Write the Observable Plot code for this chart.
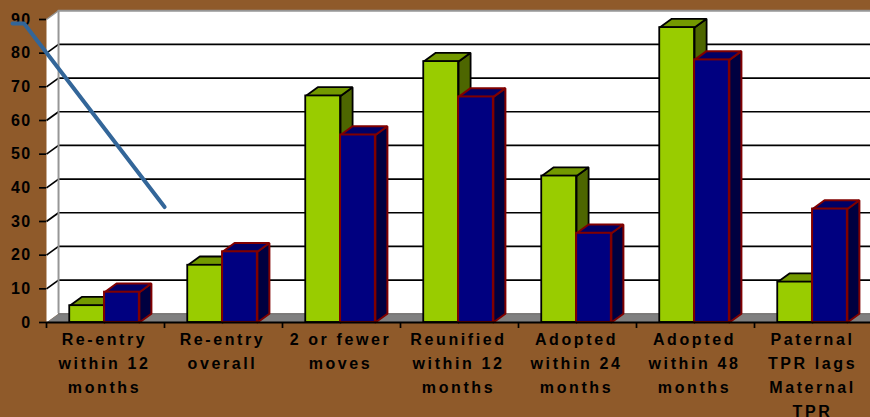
<!DOCTYPE html>
<html>
<head>
<meta charset="utf-8">
<script src="https://cdn.jsdelivr.net/npm/d3@7"></script>
<script src="https://cdn.jsdelivr.net/npm/@observablehq/plot@0.6"></script>
<style>
html,body{margin:0;padding:0;background:#8f5a2a;overflow:hidden}
svg{display:block}
svg .cat text, svg text.cat, .cat{letter-spacing:2.6px}
svg .ytick text, svg text.ytick, .ytick{letter-spacing:1.3px}
</style>
</head>
<body>
<div id="chart"></div>
<script>
const categories = [
  "Re-entry\nwithin 12\nmonths",
  "Re-entry\noverall",
  "2 or fewer\nmoves",
  "Reunified\nwithin 12\nmonths",
  "Adopted\nwithin 24\nmonths",
  "Adopted\nwithin 48\nmonths",
  "Paternal\nTPR lags\nMaternal\nTPR"
];
const greenValues = [5, 17, 67.3, 77.5, 43.5, 87.6, 12];
const blueValues = [9, 21, 55.7, 67, 26.5, 78, 33.7];
const yTicks = [0, 10, 20, 30, 40, 50, 60, 70, 80, 90];
const strayLineX = [-0.288, -0.19, 1.001];
const strayLineY = [88.8, 88.8, 34.3];

const depthX = 0.102, depthY = 2.6;
const yMax = 90, n = categories.length;
const wallRight = 7.1;

function poly(key, pts, fill, stroke) {
  return pts.concat([pts[0]]).map(([x, y]) => ({key, x, y, fill, stroke}));
}
function barFaces(values, start, width, sideFill, topFill, stroke) {
  return values.flatMap((v, i) => {
    const a = i + start, b = a + width;
    return [
      ...poly(`s${start}${i}`, [[b, 0], [b + depthX, depthY], [b + depthX, v + depthY], [b, v]], sideFill, stroke),
      ...poly(`t${start}${i}`, [[a, v], [a + depthX, v + depthY], [b + depthX, v + depthY], [b, v]], topFill, stroke)
    ];
  });
}
function barFront(values, start, width, fill, stroke, sw) {
  return Plot.rectY(values.map((v, i) => ({i, v})), {
    x1: d => d.i + start, x2: d => d.i + start + width, y1: 0, y2: "v",
    fill, stroke, strokeWidth: sw
  });
}
function polyMark(data, strokeWidth) {
  return Plot.line(data, {x: "x", y: "y", z: "key", fill: "fill", stroke: "stroke", strokeWidth, curve: "linear", strokeLinejoin: "miter"});
}

const walls = [
  ...poly("side", [[0, 0], [depthX, depthY], [depthX, yMax + depthY], [0, yMax]], "#ffffff", "none"),
  ...poly("back", [[depthX, depthY], [wallRight, depthY], [wallRight, yMax + depthY], [depthX, yMax + depthY]], "#ffffff", "none"),
  ...poly("floor", [[0, 0], [depthX, depthY], [wallRight, depthY], [wallRight, 0]], "#808080", "none")
];
const gridDiagonals = yTicks.slice(1, -1).map(t => ({t}));

const start1 = 0.197, start2 = 0.492, barW = 0.295;

const chart = Plot.plot({
  width: 870, height: 417,
  marginLeft: 46, marginRight: 0, marginTop: 19, marginBottom: 95,
  style: {background: "#8f5a2a", fontFamily: "'Liberation Sans', Arial, sans-serif", overflow: "hidden"},
  x: {type: "linear", domain: [0, 7], range: [46, 872]},
  y: {type: "linear", domain: [0, yMax], range: [322, 19]},
  color: {type: "identity"},
  marks: [
    polyMark(walls, 0),
    Plot.ruleY(yTicks.slice(1, -1), {y: d => d + depthY, x1: depthX, x2: wallRight, stroke: "#000", strokeWidth: 1.7}),
    Plot.link(gridDiagonals, {x1: 0, y1: "t", x2: depthX, y2: d => d.t + depthY, stroke: "#000", strokeWidth: 1.7}),
    Plot.ruleX([depthX], {y1: depthY, y2: yMax + depthY, stroke: "#969696", strokeWidth: 2}),
    Plot.ruleY([yMax + depthY], {x1: 0.1, x2: wallRight, stroke: "#969696", strokeWidth: 2}),
    Plot.link([0], {x1: 0, y1: yMax, x2: depthX, y2: yMax + depthY, stroke: "#969696", strokeWidth: 1.5}),
    Plot.ruleY([depthY], {x1: depthX, x2: wallRight, stroke: "#666", strokeWidth: 1}),
    polyMark(barFaces(greenValues, start1, barW, "#4d6600", "#739900", "#000"), 1.8),
    barFront(greenValues, start1, barW, "#99cc00", "#000", 1.8),
    polyMark(barFaces(blueValues, start2, barW, "#000040", "#000066", "#800000"), 2),
    barFront(blueValues, start2, barW, "#000080", "#800000", 2),
    Plot.ruleY([0], {x1: 0, x2: 7, stroke: "#000", strokeWidth: 2}),
    Plot.axisY({
      ticks: yTicks, tickSize: 7, tickPadding: 8, label: null, stroke: "#000", strokeWidth: 1.7,
      fontSize: 16, fontWeight: "bold", fill: "#000", className: "ytick"
    }),
    Plot.axisX({
      ticks: d3.range(0, n + 1), tickSize: 6, tickFormat: () => "", label: null, stroke: "#000", strokeWidth: 1.7
    }),
    Plot.text(categories, {
      x: (d, i) => i + 0.5, y: 0, text: d => d, dx: -1, dy: 5, lineAnchor: "top", lineHeight: 1.5,
      fontSize: 16, fontWeight: "bold", fill: "#000", className: "cat"
    }),
    Plot.line(strayLineX.map((x, i) => ({x, y: strayLineY[i]})), {
      x: "x", y: "y", stroke: "#336699", strokeWidth: 4, curve: "linear", strokeLinejoin: "miter"
    })
  ]
});
document.getElementById("chart").appendChild(chart);
</script>
</body>
</html>
